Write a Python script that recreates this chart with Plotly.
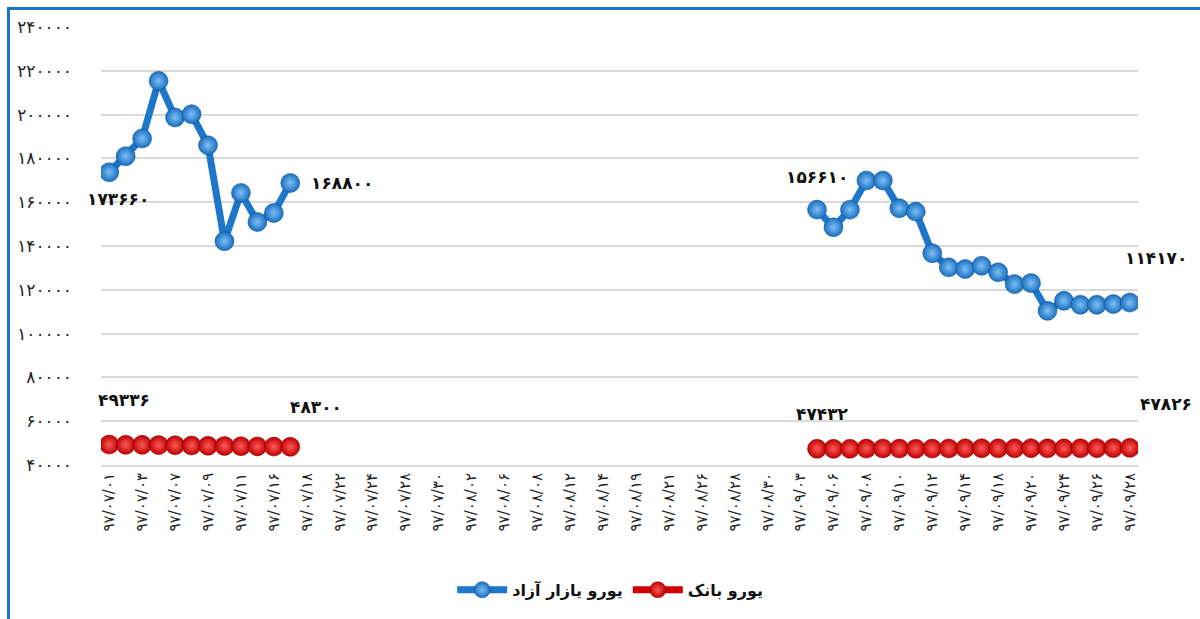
import plotly.graph_objects as go

# dates (year/month/day) of the category axis, only every second one is labelled
dates = [
    "97/07/01", "97/07/02", "97/07/03", "97/07/04", "97/07/07", "97/07/08", "97/07/09", "97/07/10",
    "97/07/11", "97/07/15", "97/07/16", "97/07/17", "97/07/18", "97/07/21", "97/07/22", "97/07/23",
    "97/07/24", "97/07/25", "97/07/28", "97/07/29", "97/07/30", "97/08/01", "97/08/02", "97/08/05",
    "97/08/06", "97/08/07", "97/08/08", "97/08/09", "97/08/12", "97/08/13", "97/08/14", "97/08/15",
    "97/08/19", "97/08/20", "97/08/21", "97/08/22", "97/08/26", "97/08/27", "97/08/28", "97/08/29",
    "97/08/30", "97/09/01", "97/09/03", "97/09/05", "97/09/06", "97/09/07", "97/09/08", "97/09/09",
    "97/09/10", "97/09/11", "97/09/12", "97/09/13", "97/09/14", "97/09/15", "97/09/18", "97/09/19",
    "97/09/20", "97/09/21", "97/09/24", "97/09/25", "97/09/26", "97/09/27", "97/09/28",
]

gap = [None] * 31

free_market = [
    173660, 181000, 189100, 215400, 198700, 200200, 186000, 142200, 164250, 151000, 155100, 168800,
] + gap + [
    156610, 148560, 156600, 169900, 169900, 157250, 155700, 136700, 130250, 129500,
    131000, 128000, 122600, 123100, 110400, 115000, 113200, 113200, 113500, 114170,
]

bank = [
    49336, 49250, 49200, 49100, 49000, 48900, 48800, 48700, 48600, 48500, 48400, 48300,
] + gap + [
    47432, 47400, 47450, 47500, 47550, 47500, 47450, 47500, 47550, 47600,
    47650, 47600, 47650, 47700, 47650, 47600, 47650, 47700, 47750, 47826,
]

y_ticks = list(range(40000, 240001, 20000))

FA = str.maketrans("0123456789", "۰۱۲۳۴۵۶۷۸۹")


def fa(v):
    return str(v).translate(FA)


cats = [fa(d) for d in dates]
font = "DejaVu Sans"

fig = go.Figure()
fig.add_trace(go.Scatter(
    x=cats, y=free_market, name="<b>یورو یازار آزاد</b>",
    mode="lines+markers",
    line=dict(color="#1c76c9", width=7),
    marker=dict(size=19, color="#1a6fc0", line=dict(width=0.5, color="#0f4f8f"),
                gradient=dict(type="radial", color="#7dc0f5")),
    connectgaps=False,
))
fig.add_trace(go.Scatter(
    x=cats, y=bank, name="<b>یورو بانک</b>",
    mode="lines+markers",
    line=dict(color="#d00000", width=7),
    marker=dict(size=19, color="#c00000", line=dict(width=0.5, color="#800000"),
                gradient=dict(type="radial", color="#ff5a5a")),
    connectgaps=False,
))

# data labels on the first and last point of each segment
labels = [
    (free_market, 0, 9, -27),
    (free_market, 11, 52, 0),
    (free_market, 43, 0, 33),
    (free_market, 62, 26, 45),
    (bank, 0, 15, 45),
    (bank, 11, 26, 40),
    (bank, 43, 5, 35),
    (bank, 62, 36, 44),
]
for series, i, dx, dy in labels:
    fig.add_annotation(
        x=cats[i], y=series[i], text="<b>" + fa(series[i]) + "</b>",
        showarrow=False, xshift=dx, yshift=dy,
        font=dict(family=font, size=17, color="#111"),
    )

# blue frame round the chart
fig.add_shape(type="rect", xref="paper", yref="paper",
              x0=-0.0892, x1=1.07, y0=-0.38, y1=1.0422,
              line=dict(color="#1a75c9", width=3), layer="above")

fig.update_xaxes(
    type="category", range=[-0.5, len(cats) - 0.5],
    tickmode="array", tickvals=cats[::2], ticktext=cats[::2],
    tickangle=-90, tickfont=dict(family=font, size=15, color="#222"),
    showgrid=False, showline=True, linecolor="#d9d9d9", linewidth=2,
    ticks="",
)
fig.update_yaxes(
    range=[40000, 240000],
    tickmode="array", tickvals=y_ticks, ticktext=[fa(v) for v in y_ticks],
    tickfont=dict(family=font, size=17, color="#222"),
    showgrid=True, gridcolor="#d9d9d9", gridwidth=2, zeroline=False,
    ticklabelstandoff=28,
)

fig.update_layout(
    width=1200, height=619,
    margin=dict(l=101, r=62, t=27, b=154),
    plot_bgcolor="white", paper_bgcolor="white",
    showlegend=True,
    legend=dict(orientation="h", x=0.491, xanchor="center", y=-0.285, yanchor="middle",
                font=dict(family=font, size=16, color="#111"), itemwidth=50),
)

fig.write_html("out.html", config={"displayModeBar": False},
               post_script="document.body.style.margin='0';")
